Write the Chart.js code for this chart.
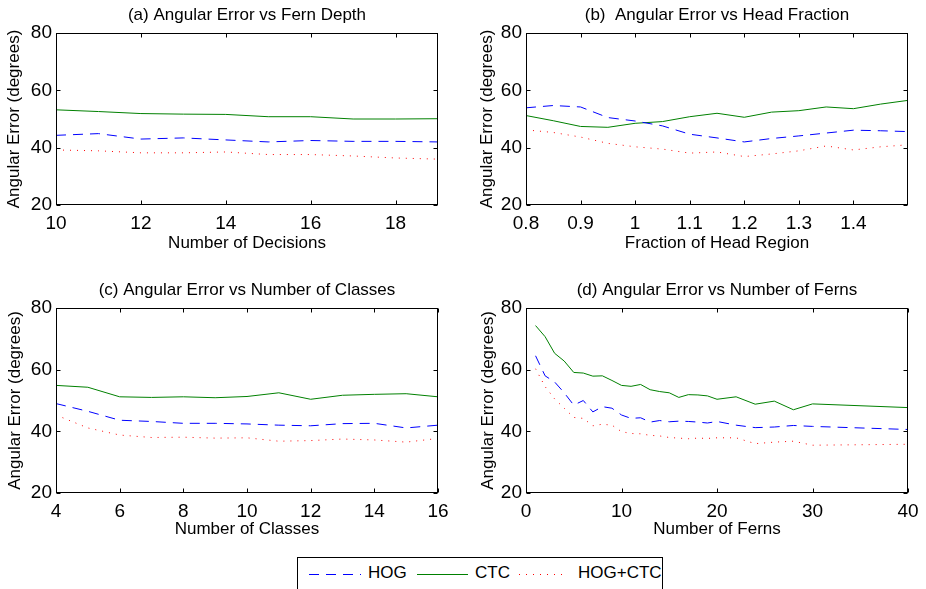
<!DOCTYPE html>
<html>
<head>
<meta charset="utf-8">
<script src="https://cdn.jsdelivr.net/npm/chart.js@4.4.1/dist/chart.umd.min.js"></script>
<style>
  html, body { margin: 0; padding: 0; background: #fff; }
  body { width: 926px; height: 589px; position: relative; overflow: hidden; font-family: 'Liberation Sans', Arial, sans-serif; }
  .panel { position: absolute; }
  #legend { position: absolute; left: 297px; top: 557px; width: 366px; height: 50px; border: 1px solid #000; background: #fff; box-sizing: border-box; }
  #legend svg { position: absolute; left: 0; top: 0; }
  #legend span { position: absolute; top: 5px; font-size: 17px; line-height: 20px; color: #000; }
</style>
</head>
<body>
<div class="panel" style="left:0;top:0"><canvas id="ca" width="463" height="260"></canvas></div>
<div class="panel" style="left:463px;top:0"><canvas id="cb" width="463" height="260"></canvas></div>
<div class="panel" style="left:0;top:270px"><canvas id="cc" width="463" height="273"></canvas></div>
<div class="panel" style="left:463px;top:270px"><canvas id="cd" width="463" height="273"></canvas></div>
<div id="legend">
  <svg width="366" height="40">
    <line x1="11" y1="16.5" x2="63" y2="16.5" stroke="#0000ff" stroke-width="1" stroke-dasharray="10,7"/>
    <line x1="119" y1="16.5" x2="170" y2="16.5" stroke="#008000" stroke-width="1"/>
    <line x1="221" y1="16.5" x2="270" y2="16.5" stroke="#ff0000" stroke-width="1" stroke-dasharray="1,6"/>
  </svg>
  <span style="left:70px">HOG</span>
  <span style="left:177px">CTC</span>
  <span style="left:280px">HOG+CTC</span>
</div>
<script>
// ---------------- data ----------------
const seriesNames = ['HOG', 'CTC', 'HOG+CTC'];
const yTicks = [20, 40, 60, 80];

// (a) Fern depth
const decisions = [10, 11, 12, 13, 14, 15, 16, 17, 18, 19];
const hogA    = [44.3, 44.9, 43.0, 43.4, 42.7, 42.0, 42.5, 42.2, 42.2, 42.0];
const ctcA    = [53.2, 52.6, 51.9, 51.7, 51.6, 50.8, 50.8, 50.0, 50.0, 50.1];
const hogCtcA = [39.2, 38.9, 38.2, 38.2, 38.5, 37.6, 37.6, 37.1, 36.4, 36.0];
const xTicksA = [10, 12, 14, 16, 18];

// (b) Head fraction
const headFractions = [0.8, 0.85, 0.9, 0.95, 1.0, 1.05, 1.1, 1.15, 1.2, 1.25, 1.3, 1.35, 1.4, 1.45, 1.5];
const hogB    = [53.9, 54.7, 54.2, 50.5, 49.3, 47.6, 44.7, 43.4, 42.0, 43.2, 44.1, 45.1, 46.1, 45.9, 45.6];
const ctcB    = [51.2, 49.4, 47.4, 47.1, 48.5, 49.1, 50.8, 52.0, 50.6, 52.4, 52.9, 54.2, 53.6, 55.2, 56.5];
const hogCtcB = [46.2, 45.3, 43.7, 41.5, 40.3, 39.5, 38.1, 38.5, 36.9, 37.8, 38.9, 40.6, 39.2, 40.3, 41.0];
const xTicksB = [0.8, 0.9, 1.0, 1.1, 1.2, 1.3, 1.4];
const xTickLabelsB = ['0.8', '0.9', '1', '1.1', '1.2', '1.3', '1.4'];

// (c) Number of classes
const classes = [4, 5, 6, 7, 8, 9, 10, 11, 12, 13, 14, 15, 16];
const hogC    = [49.0, 46.5, 43.6, 43.2, 42.6, 42.6, 42.4, 42.0, 41.8, 42.5, 42.6, 41.1, 42.0];
const ctcC    = [54.9, 54.3, 51.2, 51.0, 51.2, 50.9, 51.3, 52.5, 50.4, 51.7, 52.0, 52.2, 51.2];
const hogCtcC = [45.3, 41.1, 38.8, 38.0, 38.1, 37.8, 37.9, 36.8, 37.0, 37.5, 37.2, 36.5, 37.7];
const xTicksC = [4, 6, 8, 10, 12, 14, 16];

// (d) Number of ferns
const ferns   = [1, 2, 3, 4, 5, 6, 7, 8, 9, 10, 11, 12, 13, 14, 15, 16, 17, 18, 19, 20, 22, 24, 26, 28, 30, 40];
const hogD    = [64.5, 58.0, 56.0, 52.5, 48.5, 50.0, 46.3, 48.0, 47.5, 45.3, 44.2, 44.4, 43.0, 43.5, 43.1, 43.3, 43.2, 43.0, 42.7, 43.2, 42.0, 41.2, 41.4, 41.9, 41.6, 40.6];
const ctcD    = [74.3, 70.7, 65.3, 62.8, 59.1, 58.9, 57.9, 58.0, 56.5, 54.9, 54.6, 55.2, 53.5, 52.9, 52.5, 51.0, 51.9, 51.8, 51.5, 50.4, 51.2, 48.8, 49.8, 47.0, 48.9, 47.7];
const hogCtcD = [60.3, 54.5, 50.5, 47.5, 44.5, 44.2, 41.8, 42.3, 42.0, 39.9, 39.3, 39.2, 38.7, 38.5, 38.0, 37.8, 37.6, 37.8, 37.7, 37.9, 37.9, 36.0, 36.5, 36.8, 35.5, 35.8];
const xTicksD = [0, 10, 20, 30, 40];

// ---------------- styles ----------------
const styles = [
  { color: '#0000ff', dash: [10, 7] },
  { color: '#008000', dash: [] },
  { color: '#ff0000', dash: [1, 6] }
];

Chart.defaults.font.family = "'Liberation Sans', Arial, Helvetica, sans-serif";
Chart.defaults.color = '#000';

const boxPlugin = {
  id: 'matlabBox',
  afterDatasetsDraw(chart) {
    const { ctx, chartArea: a, scales } = chart;
    ctx.save();
    ctx.strokeStyle = '#000';
    ctx.lineWidth = 1;
    const l = Math.round(a.left) + 0.5, r = Math.round(a.right) - 0.5;
    const t = Math.round(a.top) + 0.5, b = Math.round(a.bottom) - 0.5;
    ctx.strokeRect(l, t, r - l, b - t);
    const len = 4;
    ctx.beginPath();
    scales.x.ticks.forEach(tk => {
      const px = Math.round(scales.x.getPixelForValue(tk.value)) + 0.5;
      ctx.moveTo(px, b); ctx.lineTo(px, b - len);
      ctx.moveTo(px, t); ctx.lineTo(px, t + len);
    });
    scales.y.ticks.forEach(tk => {
      const py = Math.round(scales.y.getPixelForValue(tk.value)) + 0.5;
      ctx.moveTo(l, py); ctx.lineTo(l + len, py);
      ctx.moveTo(r, py); ctx.lineTo(r - len, py);
    });
    ctx.stroke();
    ctx.restore();
  }
};

function makePanel(id, p) {
  const datasets = [p.hog, p.ctc, p.hogCtc].map((vals, k) => ({
    label: seriesNames[k],
    data: p.xs.map((x, i) => ({ x: x, y: vals[i] })),
    borderColor: styles[k].color,
    backgroundColor: styles[k].color,
    borderDash: styles[k].dash,
    borderWidth: 1,
    pointRadius: 0,
    tension: 0,
    fill: false
  }));
  return new Chart(document.getElementById(id), {
    type: 'line',
    data: { datasets },
    options: {
      responsive: false,
      animation: false,
      events: [],
      layout: { padding: { left: 0, right: p.R, top: 0, bottom: 0 } },
      plugins: {
        legend: { display: false },
        tooltip: { enabled: false },
        title: {
          display: true, text: p.title, color: '#000', fullSize: false,
          font: { size: 17, weight: 'normal' },
          padding: { top: p.tp1, bottom: p.tp2 }
        }
      },
      scales: {
        x: {
          type: 'linear', min: p.xmin, max: p.xmax,
          grid: { display: false, drawTicks: false },
          border: { display: false },
          afterBuildTicks: s => { s.ticks = p.xTicks.map(v => ({ value: v })); },
          ticks: {
            font: { size: 19 }, color: '#000', padding: p.xtp, maxRotation: 0, autoSkip: false,
            callback: (v) => {
              const i = p.xTicks.indexOf(v);
              return p.xLabels ? p.xLabels[i] : String(v);
            }
          },
          title: { display: true, text: p.xTitle, color: '#000', font: { size: 17 }, padding: { top: 0, bottom: p.xpb } },
          afterFit: s => { s.height = p.xh; }
        },
        y: {
          min: 20, max: 80,
          grid: { display: false, drawTicks: false },
          border: { display: false },
          afterBuildTicks: s => { s.ticks = yTicks.map(v => ({ value: v })); },
          ticks: { font: { size: 19 }, color: '#000', padding: 4 },
          title: { display: true, text: 'Angular Error (degrees)', color: '#000', font: { size: 17 }, padding: { top: p.ypt, bottom: 0 } },
          afterFit: s => { s.width = p.yw; }
        }
      }
    },
    plugins: [boxPlugin]
  });
}

makePanel('ca', {
  title: '(a) Angular Error vs Fern Depth', xTitle: 'Number of Decisions',
  xs: decisions, hog: hogA, ctc: ctcA, hogCtc: hogCtcA,
  xmin: 10, xmax: 19, xTicks: xTicksA,
  yw: 56, R: 25, tp1: 5.3, tp2: 7.3, xh: 55, xpb: 6, xtp: 7, ypt: 3.8
});
makePanel('cb', {
  title: '(b)  Angular Error vs Head Fraction', xTitle: 'Fraction of Head Region',
  xs: headFractions, hog: hogB, ctc: ctcB, hogCtc: hogCtcB,
  xmin: 0.8, xmax: 1.5, xTicks: xTicksB, xLabels: xTickLabelsB,
  yw: 63, R: 18, tp1: 5.3, tp2: 7.3, xh: 55, xpb: 6, xtp: 7, ypt: 13.8
});
makePanel('cc', {
  title: '(c) Angular Error vs Number of Classes', xTitle: 'Number of Classes',
  xs: classes, hog: hogC, ctc: ctcC, hogCtc: hogCtcC,
  xmin: 4, xmax: 16, xTicks: xTicksC,
  yw: 56, R: 25, tp1: 9.8, tp2: 7.8, xh: 50, xpb: 3, xtp: 7, ypt: 5.5
});
makePanel('cd', {
  title: '(d) Angular Error vs Number of Ferns', xTitle: 'Number of Ferns',
  xs: ferns, hog: hogD, ctc: ctcD, hogCtc: hogCtcD,
  xmin: 0, xmax: 40, xTicks: xTicksD,
  yw: 63, R: 18, tp1: 9.8, tp2: 7.8, xh: 50, xpb: 3, xtp: 7, ypt: 14.8
});
</script>
</body>
</html>
